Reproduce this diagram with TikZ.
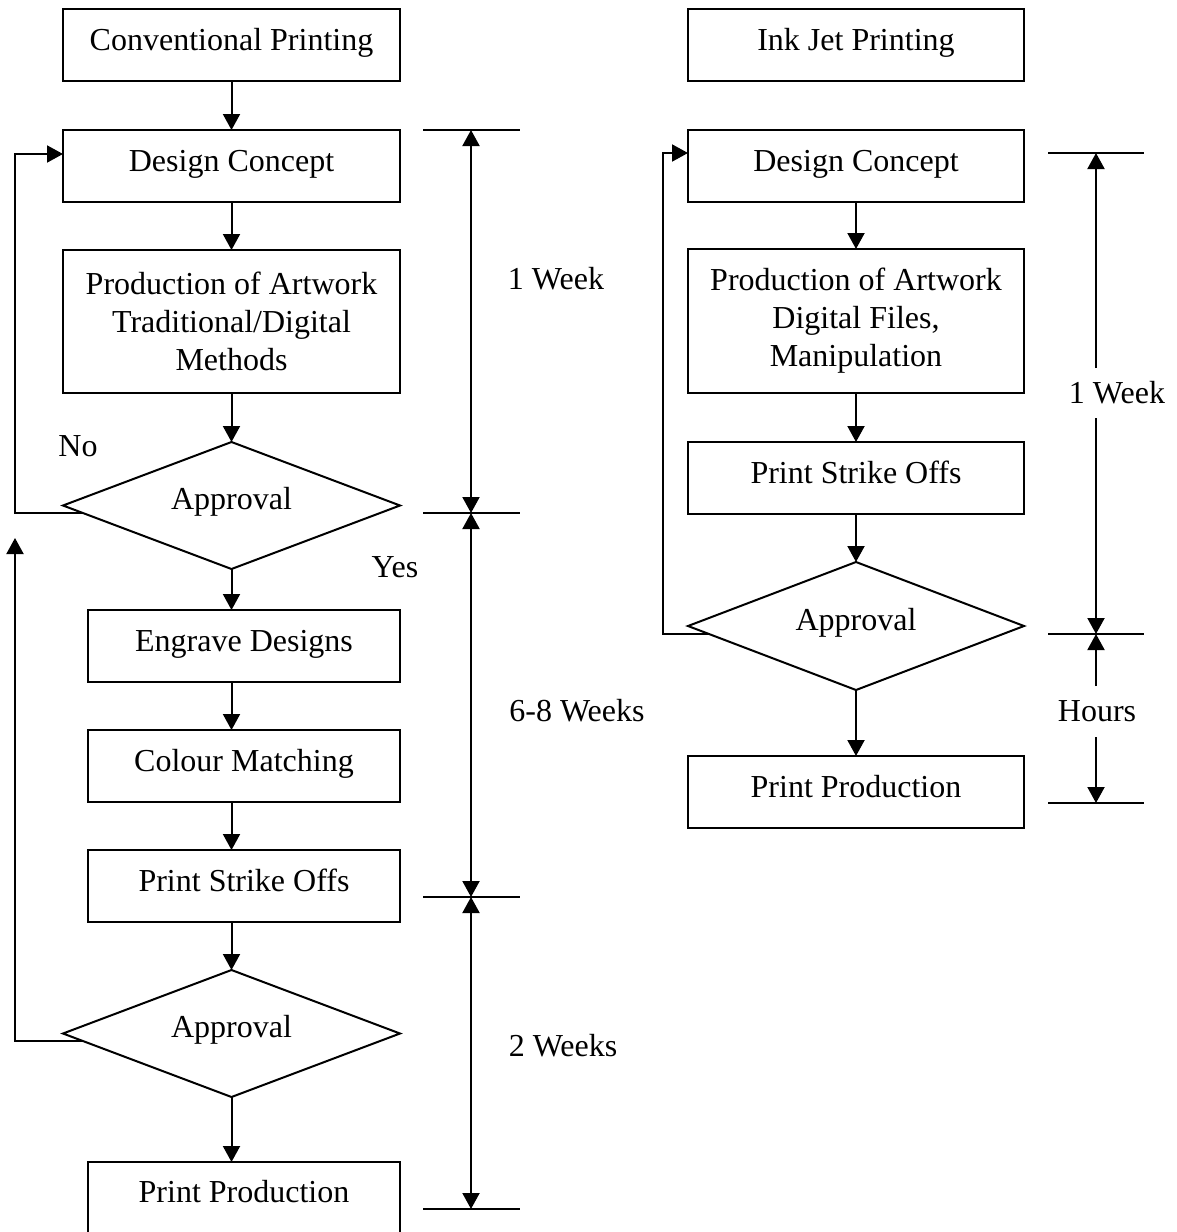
\documentclass[tikz,border=0pt]{standalone}
\usepackage{fontspec}
\setmainfont{Liberation Serif}
\usetikzlibrary{arrows.meta,shapes.geometric}
\begin{document}
\begin{tikzpicture}[x=1pt,y=-1pt,
  every node/.style={font=\fontsize{32}{38}\selectfont},
  box/.style={draw, line width=2pt, inner sep=0pt, outer sep=0pt, anchor=north west, text height=41pt, text depth=31pt},
  bigbox/.style={draw, line width=2pt, inner sep=0pt, outer sep=0pt, anchor=north west, align=center, minimum height=143pt},
  dia/.style={draw, line width=2pt, diamond, inner sep=0pt, outer sep=0pt, minimum height=127pt},
  arr/.style={line width=2pt, -{Triangle[width=17pt,length=16pt]}},
  darr/.style={line width=2pt, {Triangle[width=17pt,length=16pt]}-{Triangle[width=17pt,length=16pt]}},
  ln/.style={line width=2pt},
  lbl/.style={inner sep=0pt}]

\useasboundingbox (0,0) rectangle (1176,1232);

% ---------- left column ----------
\node[box, minimum width=337pt] (cp)  at (63,9)   {Conventional Printing};
\node[box, minimum width=337pt] (dc1) at (63,130) {Design Concept};
\node[bigbox, minimum width=337pt] (pa1) at (63,250) {Production of Artwork\\Traditional/Digital\\Methods};
\node[dia, minimum width=337pt] (ap1) at (231.5,505.5) {};
\node[lbl, anchor=base] (ap1t) at (231.5,509) {Approval};
\node[box, minimum width=312pt] (eg)  at (88,610) {Engrave Designs};
\node[box, minimum width=312pt] (cm)  at (88,730) {Colour Matching};
\node[box, minimum width=312pt] (ps1) at (88,850) {Print Strike Offs};
\node[dia, minimum width=337pt] (ap2) at (231.5,1033.5) {};
\node[lbl, anchor=base] (ap2t) at (231.5,1037) {Approval};
\node[draw, line width=2pt, inner sep=0pt, outer sep=0pt, anchor=north west, minimum width=312pt, text height=40pt, text depth=40pt] (pp1) at (88,1162) {Print Production};

\draw[arr] (cp.south) -- (dc1.north);
\draw[arr] (dc1.south) -- (pa1.north);
\draw[arr] (pa1.south) -- (ap1.north);
\draw[arr] (ap1.south) -- (ap1.south |- eg.north);
\draw[arr] (ap1.south |- eg.south) -- (ap1.south |- cm.north);
\draw[arr] (ap1.south |- cm.south) -- (ap1.south |- ps1.north);
\draw[arr] (ap1.south |- ps1.south) -- (ap2.north);
\draw[arr] (ap2.south) -- (ap2.south |- pp1.north);

% feedback loops
\coordinate (f1s) at (83,513);
\coordinate (f1e) at (63,154);
\draw[arr] (f1s) -- (15,513) -- (15,154) -- (f1e);
\coordinate (f2s) at (83,1041);
\coordinate (f2e) at (15,538);
\draw[arr] (f2s) -- (15,1041) -- (f2e);

\node[lbl] (no)  at (78,446) {No};
\node[lbl] (yes) at (395,567) {Yes};

% left dimensions
\coordinate (la) at (471,130);
\coordinate (lb) at (471,513);
\coordinate (lc) at (471,897);
\coordinate (ld) at (471,1209);
\draw[ln] (423,130) -- (520,130);
\draw[ln] (423,513) -- (520,513);
\draw[ln] (423,897) -- (520,897);
\draw[ln] (423,1209) -- (520,1209);
\draw[darr] (la) -- (lb);
\draw[darr] (lb) -- (lc);
\draw[darr] (lc) -- (ld);
\node[lbl] (w1)  at (556,279)  {1 Week};
\node[lbl] (w68) at (577,711)  {6-8 Weeks};
\node[lbl] (w2)  at (563,1046) {2 Weeks};

% ---------- right column ----------
\node[box, minimum width=336pt] (ij)  at (688,9)   {Ink Jet Printing};
\node[box, minimum width=336pt] (dc2) at (688,130) {Design Concept};
\node[bigbox, minimum width=336pt, minimum height=144pt] (pa2) at (688,249) {Production of Artwork\\Digital Files,\\Manipulation};
\node[box, minimum width=336pt] (ps2) at (688,442) {Print Strike Offs};
\node[dia, minimum width=336pt, minimum height=128pt] (ap3) at (856,626) {};
\node[lbl, anchor=base] (ap3t) at (856,630) {Approval};
\node[box, minimum width=336pt] (pp2) at (688,756) {Print Production};

\draw[arr] (dc2.south) -- (pa2.north);
\draw[arr] (pa2.south) -- (ps2.north);
\draw[arr] (ps2.south) -- (ap3.north);
\draw[arr] (ap3.south) -- (pp2.north);

\coordinate (f3s) at (709,634);
\coordinate (f3e) at (688,153);
\draw[arr] (f3s) -- (663,634) -- (663,153) -- (f3e);

% right dimensions
\coordinate (ra) at (1096,153);
\coordinate (rb) at (1096,634);
\coordinate (rc) at (1096,803);
\draw[ln] (1048,153) -- (1144,153);
\draw[ln] (1048,634) -- (1144,634);
\draw[ln] (1048,803) -- (1144,803);
\coordinate (r1u) at (1096,368);
\coordinate (r1d) at (1096,418);
\draw[arr] (r1u) -- (ra);
\draw[arr] (r1d) -- (rb);
\node[lbl] (w1r) at (1117,393) {1 Week};
\coordinate (r2u) at (1096,686);
\coordinate (r2d) at (1096,737);
\draw[arr] (r2u) -- (rb);
\draw[arr] (r2d) -- (rc);
\node[lbl] (hrs) at (1097,711) {Hours};
\end{tikzpicture}
\end{document}
